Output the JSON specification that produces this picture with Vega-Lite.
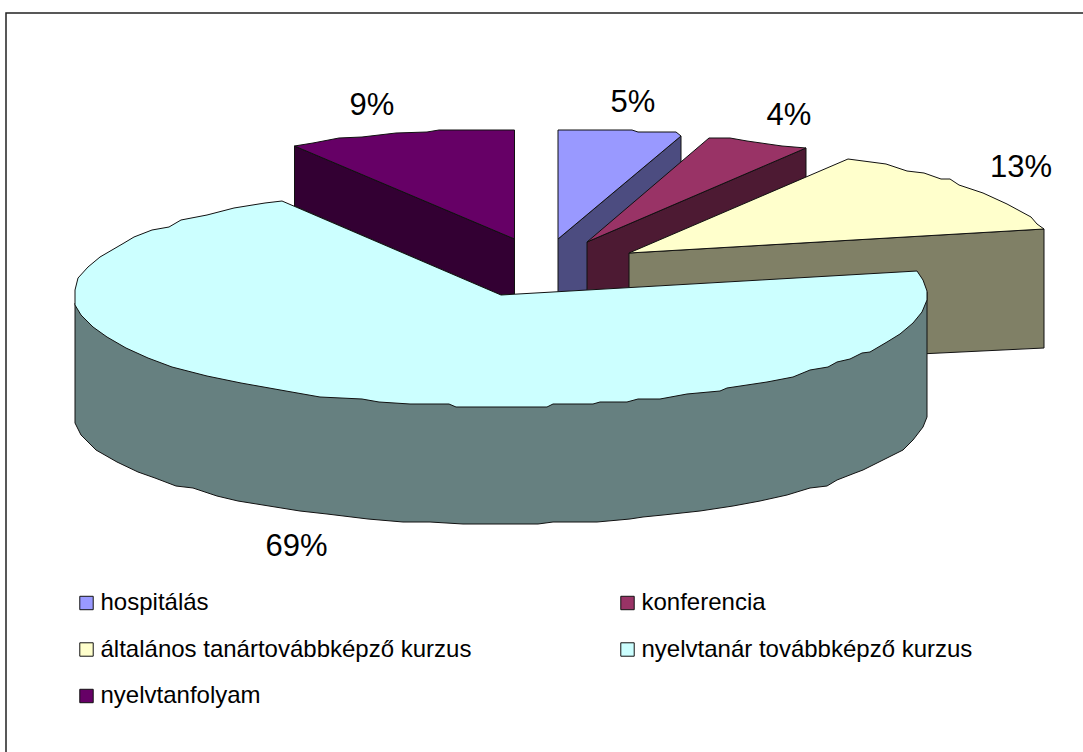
{"$schema":"https://vega.github.io/schema/vega-lite/v6.json","width":1083,"height":752,"autosize":{"type":"none"},"padding":0,"background":"white","view":{"stroke":null},
"datasets":{
"faces":[
{"part":"nyelvtanfolyam oldal","i":1,"x":294.5,"y":146},{"part":"nyelvtanfolyam oldal","i":2,"x":514.5,"y":239},{"part":"nyelvtanfolyam oldal","i":3,"x":514.5,"y":294},{"part":"nyelvtanfolyam oldal","i":4,"x":501,"y":295},{"part":"nyelvtanfolyam oldal","i":5,"x":294.5,"y":206},{"part":"nyelvtanfolyam oldal","i":6,"x":294.5,"y":146},
{"part":"nyelvtanfolyam","i":1,"x":294.5,"y":146},{"part":"nyelvtanfolyam","i":2,"x":313,"y":143},{"part":"nyelvtanfolyam","i":3,"x":339,"y":138},{"part":"nyelvtanfolyam","i":4,"x":362,"y":137},{"part":"nyelvtanfolyam","i":5,"x":396,"y":133},{"part":"nyelvtanfolyam","i":6,"x":427,"y":132},{"part":"nyelvtanfolyam","i":7,"x":439,"y":130},{"part":"nyelvtanfolyam","i":8,"x":514.5,"y":130},{"part":"nyelvtanfolyam","i":9,"x":514.5,"y":239},{"part":"nyelvtanfolyam","i":10,"x":294.5,"y":146},
{"part":"hospitálás oldal","i":1,"x":558,"y":239},{"part":"hospitálás oldal","i":2,"x":681,"y":136},{"part":"hospitálás oldal","i":3,"x":681,"y":250},{"part":"hospitálás oldal","i":4,"x":558,"y":354},{"part":"hospitálás oldal","i":5,"x":558,"y":239},
{"part":"hospitálás","i":1,"x":558,"y":130},{"part":"hospitálás","i":2,"x":632,"y":130},{"part":"hospitálás","i":3,"x":638,"y":132},{"part":"hospitálás","i":4,"x":676,"y":132},{"part":"hospitálás","i":5,"x":681,"y":136},{"part":"hospitálás","i":6,"x":558,"y":239},{"part":"hospitálás","i":7,"x":558,"y":130},
{"part":"konferencia oldal","i":1,"x":587,"y":242},{"part":"konferencia oldal","i":2,"x":806,"y":148},{"part":"konferencia oldal","i":3,"x":806,"y":263},{"part":"konferencia oldal","i":4,"x":587,"y":357},{"part":"konferencia oldal","i":5,"x":587,"y":242},
{"part":"konferencia","i":1,"x":587,"y":242},{"part":"konferencia","i":2,"x":709,"y":138},{"part":"konferencia","i":3,"x":730,"y":138},{"part":"konferencia","i":4,"x":747,"y":141},{"part":"konferencia","i":5,"x":782,"y":146},{"part":"konferencia","i":6,"x":806,"y":148},{"part":"konferencia","i":7,"x":587,"y":242},
{"part":"általános tanártovábbképző kurzus oldal","i":1,"x":629,"y":253},{"part":"általános tanártovábbképző kurzus oldal","i":2,"x":1044,"y":229},{"part":"általános tanártovábbképző kurzus oldal","i":3,"x":1044,"y":348},{"part":"általános tanártovábbképző kurzus oldal","i":4,"x":629,"y":368},{"part":"általános tanártovábbképző kurzus oldal","i":5,"x":629,"y":253},
{"part":"általános tanártovábbképző kurzus","i":1,"x":629,"y":253},{"part":"általános tanártovábbképző kurzus","i":2,"x":848,"y":159},{"part":"általános tanártovábbképző kurzus","i":3,"x":886,"y":164},{"part":"általános tanártovábbképző kurzus","i":4,"x":907,"y":171},{"part":"általános tanártovábbképző kurzus","i":5,"x":924,"y":173},{"part":"általános tanártovábbképző kurzus","i":6,"x":941,"y":179},{"part":"általános tanártovábbképző kurzus","i":7,"x":950,"y":179},{"part":"általános tanártovábbképző kurzus","i":8,"x":959,"y":185},{"part":"általános tanártovábbképző kurzus","i":9,"x":983,"y":193},{"part":"általános tanártovábbképző kurzus","i":10,"x":1007,"y":204},{"part":"általános tanártovábbképző kurzus","i":11,"x":1031,"y":217},{"part":"általános tanártovábbképző kurzus","i":12,"x":1037,"y":224},{"part":"általános tanártovábbképző kurzus","i":13,"x":1044,"y":229},{"part":"általános tanártovábbképző kurzus","i":14,"x":629,"y":253},
{"part":"nyelvtanár továbbképző kurzus oldal","i":1,"x":75,"y":303},{"part":"nyelvtanár továbbképző kurzus oldal","i":2,"x":927,"y":292},{"part":"nyelvtanár továbbképző kurzus oldal","i":3,"x":927,"y":417},{"part":"nyelvtanár továbbképző kurzus oldal","i":4,"x":923,"y":427},{"part":"nyelvtanár továbbképző kurzus oldal","i":5,"x":913,"y":440},{"part":"nyelvtanár továbbképző kurzus oldal","i":6,"x":903,"y":450},{"part":"nyelvtanár továbbképző kurzus oldal","i":7,"x":883,"y":460},{"part":"nyelvtanár továbbképző kurzus oldal","i":8,"x":863,"y":470},{"part":"nyelvtanár továbbképző kurzus oldal","i":9,"x":855,"y":473},{"part":"nyelvtanár továbbképző kurzus oldal","i":10,"x":837,"y":480},{"part":"nyelvtanár továbbképző kurzus oldal","i":11,"x":827,"y":486},{"part":"nyelvtanár továbbképző kurzus oldal","i":12,"x":810,"y":488},{"part":"nyelvtanár továbbképző kurzus oldal","i":13,"x":787,"y":495},{"part":"nyelvtanár továbbképző kurzus oldal","i":14,"x":760,"y":501},{"part":"nyelvtanár továbbképző kurzus oldal","i":15,"x":733,"y":506},{"part":"nyelvtanár továbbképző kurzus oldal","i":16,"x":700,"y":511},{"part":"nyelvtanár továbbképző kurzus oldal","i":17,"x":663,"y":515},{"part":"nyelvtanár továbbképző kurzus oldal","i":18,"x":643,"y":517},{"part":"nyelvtanár továbbképző kurzus oldal","i":19,"x":630,"y":519},{"part":"nyelvtanár továbbképző kurzus oldal","i":20,"x":597,"y":522},{"part":"nyelvtanár továbbképző kurzus oldal","i":21,"x":553,"y":522},{"part":"nyelvtanár továbbképző kurzus oldal","i":22,"x":538,"y":524},{"part":"nyelvtanár továbbképző kurzus oldal","i":23,"x":463,"y":524},{"part":"nyelvtanár továbbképző kurzus oldal","i":24,"x":430,"y":522},{"part":"nyelvtanár továbbképző kurzus oldal","i":25,"x":403,"y":522},{"part":"nyelvtanár továbbképző kurzus oldal","i":26,"x":368,"y":519},{"part":"nyelvtanár továbbképző kurzus oldal","i":27,"x":327,"y":514},{"part":"nyelvtanár továbbképző kurzus oldal","i":28,"x":300,"y":511},{"part":"nyelvtanár továbbképző kurzus oldal","i":29,"x":269,"y":506},{"part":"nyelvtanár továbbképző kurzus oldal","i":30,"x":238,"y":501},{"part":"nyelvtanár továbbképző kurzus oldal","i":31,"x":217,"y":496},{"part":"nyelvtanár továbbképző kurzus oldal","i":32,"x":193,"y":488},{"part":"nyelvtanár továbbképző kurzus oldal","i":33,"x":176,"y":486},{"part":"nyelvtanár továbbképző kurzus oldal","i":34,"x":155,"y":478},{"part":"nyelvtanár továbbképző kurzus oldal","i":35,"x":138,"y":472},{"part":"nyelvtanár továbbképző kurzus oldal","i":36,"x":117,"y":462},{"part":"nyelvtanár továbbképző kurzus oldal","i":37,"x":96,"y":450},{"part":"nyelvtanár továbbképző kurzus oldal","i":38,"x":81,"y":435},{"part":"nyelvtanár továbbképző kurzus oldal","i":39,"x":75,"y":423},{"part":"nyelvtanár továbbképző kurzus oldal","i":40,"x":75,"y":303},
{"part":"nyelvtanár továbbképző kurzus","i":1,"x":282,"y":201},{"part":"nyelvtanár továbbképző kurzus","i":2,"x":265,"y":203},{"part":"nyelvtanár továbbképző kurzus","i":3,"x":234,"y":208},{"part":"nyelvtanár továbbképző kurzus","i":4,"x":207,"y":215},{"part":"nyelvtanár továbbképző kurzus","i":5,"x":181,"y":220},{"part":"nyelvtanár továbbképző kurzus","i":6,"x":169,"y":227},{"part":"nyelvtanár továbbképző kurzus","i":7,"x":152,"y":230},{"part":"nyelvtanár továbbképző kurzus","i":8,"x":134,"y":237},{"part":"nyelvtanár továbbképző kurzus","i":9,"x":124,"y":243},{"part":"nyelvtanár továbbképző kurzus","i":10,"x":100,"y":257},{"part":"nyelvtanár továbbképző kurzus","i":11,"x":88,"y":267},{"part":"nyelvtanár továbbképző kurzus","i":12,"x":78,"y":278},{"part":"nyelvtanár továbbképző kurzus","i":13,"x":75,"y":290},{"part":"nyelvtanár továbbképző kurzus","i":14,"x":75,"y":305},{"part":"nyelvtanár továbbképző kurzus","i":15,"x":81,"y":315},{"part":"nyelvtanár továbbképző kurzus","i":16,"x":93,"y":327},{"part":"nyelvtanár továbbképző kurzus","i":17,"x":107,"y":337},{"part":"nyelvtanár továbbképző kurzus","i":18,"x":126,"y":348},{"part":"nyelvtanár továbbképző kurzus","i":19,"x":148,"y":358},{"part":"nyelvtanár továbbképző kurzus","i":20,"x":172,"y":367},{"part":"nyelvtanár továbbképző kurzus","i":21,"x":207,"y":376},{"part":"nyelvtanár továbbképző kurzus","i":22,"x":241,"y":383},{"part":"nyelvtanár továbbképző kurzus","i":23,"x":286,"y":391},{"part":"nyelvtanár továbbképző kurzus","i":24,"x":320,"y":397},{"part":"nyelvtanár továbbképző kurzus","i":25,"x":362,"y":399},{"part":"nyelvtanár továbbképző kurzus","i":26,"x":379,"y":402},{"part":"nyelvtanár továbbképző kurzus","i":27,"x":410,"y":404},{"part":"nyelvtanár továbbképző kurzus","i":28,"x":449,"y":404},{"part":"nyelvtanár továbbképző kurzus","i":29,"x":456,"y":407},{"part":"nyelvtanár továbbképző kurzus","i":30,"x":547,"y":407},{"part":"nyelvtanár továbbképző kurzus","i":31,"x":553,"y":404},{"part":"nyelvtanár továbbképző kurzus","i":32,"x":593,"y":404},{"part":"nyelvtanár továbbképző kurzus","i":33,"x":600,"y":402},{"part":"nyelvtanár továbbképző kurzus","i":34,"x":627,"y":402},{"part":"nyelvtanár továbbképző kurzus","i":35,"x":638,"y":399},{"part":"nyelvtanár továbbképző kurzus","i":36,"x":660,"y":399},{"part":"nyelvtanár továbbképző kurzus","i":37,"x":687,"y":394},{"part":"nyelvtanár továbbképző kurzus","i":38,"x":720,"y":391},{"part":"nyelvtanár továbbképző kurzus","i":39,"x":727,"y":388},{"part":"nyelvtanár továbbképző kurzus","i":40,"x":767,"y":382},{"part":"nyelvtanár továbbképző kurzus","i":41,"x":793,"y":377},{"part":"nyelvtanár továbbképző kurzus","i":42,"x":810,"y":370},{"part":"nyelvtanár továbbképző kurzus","i":43,"x":828,"y":367},{"part":"nyelvtanár továbbképző kurzus","i":44,"x":837,"y":362},{"part":"nyelvtanár továbbképző kurzus","i":45,"x":850,"y":359},{"part":"nyelvtanár továbbképző kurzus","i":46,"x":862,"y":353},{"part":"nyelvtanár továbbképző kurzus","i":47,"x":870,"y":352},{"part":"nyelvtanár továbbképző kurzus","i":48,"x":887,"y":342},{"part":"nyelvtanár továbbképző kurzus","i":49,"x":900,"y":334},{"part":"nyelvtanár továbbképző kurzus","i":50,"x":913,"y":323},{"part":"nyelvtanár továbbképző kurzus","i":51,"x":922,"y":312},{"part":"nyelvtanár továbbképző kurzus","i":52,"x":927,"y":300},{"part":"nyelvtanár továbbképző kurzus","i":53,"x":927,"y":291},{"part":"nyelvtanár továbbképző kurzus","i":54,"x":923,"y":280},{"part":"nyelvtanár továbbképző kurzus","i":55,"x":917,"y":271},{"part":"nyelvtanár továbbképző kurzus","i":56,"x":501,"y":295},{"part":"nyelvtanár továbbképző kurzus","i":57,"x":282,"y":201}
],
"frame":[{"i":1,"x":6,"y":752},{"i":2,"x":6,"y":13},{"i":3,"x":1083,"y":13}],
"shares":[
{"slice":"hospitálás","share":"5%","x":633,"y":103},
{"slice":"konferencia","share":"4%","x":789,"y":116},
{"slice":"általános tanártovábbképző kurzus","share":"13%","x":1021,"y":168},
{"slice":"nyelvtanár továbbképző kurzus","share":"69%","x":296.5,"y":547},
{"slice":"nyelvtanfolyam","share":"9%","x":372,"y":106}
]},
"layer":[
{"data":{"name":"frame"},"mark":{"type":"line","stroke":"#222222","strokeWidth":1.5,"clip":false},"encoding":{"x":{"field":"x","type":"quantitative","scale":{"domain":[0,1083]},"axis":null},"y":{"field":"y","type":"quantitative","scale":{"domain":[752,0]},"axis":null},"order":{"field":"i"}}},
{"data":{"name":"faces"},"mark":{"type":"line","stroke":"#111111","strokeWidth":1,"strokeJoin":"round"},"encoding":{"x":{"field":"x","type":"quantitative","scale":{"domain":[0,1083]},"axis":null},"y":{"field":"y","type":"quantitative","scale":{"domain":[752,0]},"axis":null},"order":{"field":"i"},
"fill":{"field":"part","type":"nominal","scale":{"domain":["hospitálás","konferencia","általános tanártovábbképző kurzus","nyelvtanár továbbképző kurzus","nyelvtanfolyam","hospitálás oldal","konferencia oldal","általános tanártovábbképző kurzus oldal","nyelvtanár továbbképző kurzus oldal","nyelvtanfolyam oldal"],"range":["#9999FF","#993366","#FFFFCC","#CCFFFF","#660066","#4C4C80","#4D1A33","#808066","#668080","#330033"]},
"legend":{"values":["hospitálás","konferencia","általános tanártovábbképző kurzus","nyelvtanár továbbképző kurzus","nyelvtanfolyam"],"title":null,"orient":"none","direction":"horizontal","padding":0,"legendX":74.5,"legendY":591,"columns":2,"columnPadding":144,"rowPadding":22.5,"gridAlign":"all","symbolType":"square","symbolSize":180,"symbolStrokeColor":"#111111","symbolStrokeWidth":1,"symbolOpacity":1,"labelFont":"Liberation Sans","labelFontSize":24,"labelColor":"#000000","labelOffset":2,"labelLimit":500}}}},
{"data":{"name":"shares"},"mark":{"type":"text","font":"Liberation Sans","fontSize":31,"color":"#000000","align":"center","baseline":"middle"},"encoding":{"x":{"field":"x","type":"quantitative","scale":{"domain":[0,1083]},"axis":null},"y":{"field":"y","type":"quantitative","scale":{"domain":[752,0]},"axis":null},"text":{"field":"share","type":"nominal"}}}
]}
